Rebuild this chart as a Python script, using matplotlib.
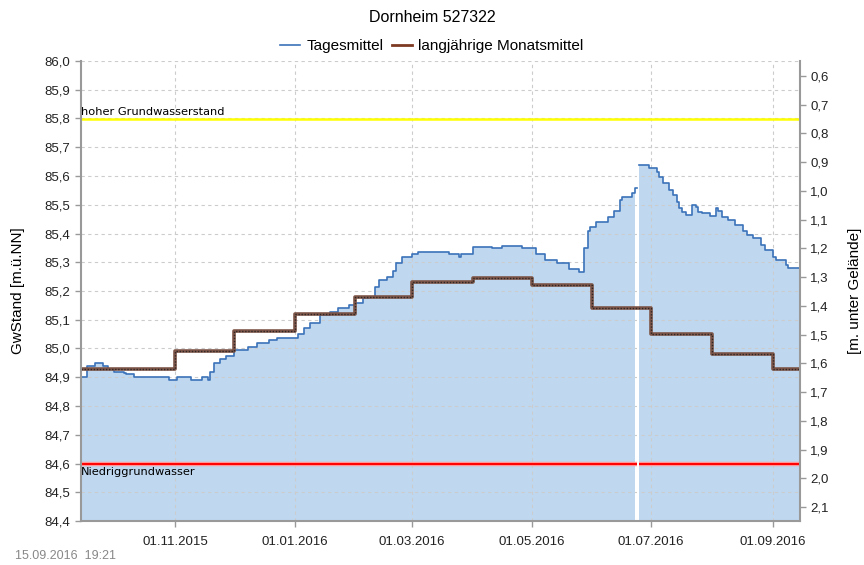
import numpy as np
import pandas as pd
import matplotlib
matplotlib.use("Agg")
import matplotlib.pyplot as plt
import matplotlib.dates as mdates
from matplotlib.ticker import FuncFormatter, MultipleLocator

plt.rcParams["font.family"] = ["Liberation Sans", "DejaVu Sans"]

# Tagesmittel (daily mean); NaN = missing day
day_dates = [
    "2015-09-14", "2015-09-17", "2015-09-21", "2015-09-25", "2015-09-28",
    "2015-10-01", "2015-10-06", "2015-10-07", "2015-10-11", "2015-10-29",
    "2015-11-02", "2015-11-09", "2015-11-15", "2015-11-18", "2015-11-19",
    "2015-11-21", "2015-11-24", "2015-11-27", "2015-12-01", "2015-12-08",
    "2015-12-13", "2015-12-19", "2015-12-23", "2016-01-03", "2016-01-06",
    "2016-01-09", "2016-01-14", "2016-01-19", "2016-01-23", "2016-01-29",
    "2016-02-01", "2016-02-05", "2016-02-08", "2016-02-11", "2016-02-13",
    "2016-02-17", "2016-02-20", "2016-02-22", "2016-02-25", "2016-03-01",
    "2016-03-04", "2016-03-20", "2016-03-25", "2016-03-26", "2016-04-01",
    "2016-04-11", "2016-04-16", "2016-04-26", "2016-05-03", "2016-05-08",
    "2016-05-14", "2016-05-20", "2016-05-25", "2016-05-28", "2016-05-30",
    "2016-05-31", "2016-06-03", "2016-06-09", "2016-06-12", "2016-06-15",
    "2016-06-16", "2016-06-21", "2016-06-23", "2016-06-24", "2016-06-25",
    "2016-06-30", "2016-07-04", "2016-07-05", "2016-07-07", "2016-07-10",
    "2016-07-12", "2016-07-14", "2016-07-15", "2016-07-17", "2016-07-19",
    "2016-07-22", "2016-07-24", "2016-07-25", "2016-07-27", "2016-07-31",
    "2016-08-03", "2016-08-04", "2016-08-06", "2016-08-09", "2016-08-13",
    "2016-08-17", "2016-08-19", "2016-08-22", "2016-08-26", "2016-08-28",
    "2016-09-01", "2016-09-03", "2016-09-08", "2016-09-09", "2016-09-15",
]
day_values = [
    84.90, 84.94, 84.95, 84.94, 84.93,
    84.92, 84.915, 84.91, 84.90, 84.89,
    84.90, 84.89, 84.90, 84.89, 84.92,
    84.95, 84.965, 84.975, 84.995, 85.005,
    85.02, 85.03, 85.038, 85.05, 85.07,
    85.09, 85.115, 85.128, 85.14, 85.15,
    85.16, 85.175, 85.18, 85.215, 85.238,
    85.25, 85.27, 85.296, 85.32, 85.33,
    85.337, 85.327, 85.317, 85.327, 85.354,
    85.349, 85.358, 85.349, 85.33, 85.308,
    85.296, 85.275, 85.267, 85.349, 85.41,
    85.423, 85.44, 85.458, 85.48, 85.516,
    85.528, 85.54, 85.557, np.nan, 85.638,
    85.627, 85.615, 85.598, 85.575, 85.551,
    85.534, 85.51, 85.49, 85.476, 85.464,
    85.50, 85.493, 85.476, 85.47, 85.46,
    85.488, 85.48, 85.458, 85.447, 85.43,
    85.41, 85.395, 85.384, 85.36, 85.343,
    85.32, 85.308, 85.29, 85.28, 85.265,
]

# langjährige Monatsmittel (long-term monthly mean)
month_starts = [
    "2015-09-14", "2015-10-01", "2015-11-01", "2015-12-01", "2016-01-01",
    "2016-02-01", "2016-03-01", "2016-04-01", "2016-05-01", "2016-06-01",
    "2016-07-01", "2016-08-01", "2016-09-01", "2016-09-15",
]
month_means = [
    84.93, 84.93, 84.99, 85.06, 85.12,
    85.18, 85.23, 85.245, 85.22, 85.14,
    85.05, 84.98, 84.93, 84.93,
]

high_level = 85.8
low_level = 84.6
ground = 86.548
gap_start, gap_end = "2016-06-24", "2016-06-25"
tick_dates = ["2015-11-01", "2016-01-01", "2016-03-01", "2016-05-01",
              "2016-07-01", "2016-09-01"]

x_day = pd.to_datetime(day_dates)
y_day = np.array(day_values)
x_mon = pd.to_datetime(month_starts)

fig = plt.figure(figsize=(8.64, 5.65), dpi=100)
ax = fig.add_axes([81 / 864, 1 - 521 / 565, 719 / 864, 460 / 565])

ymin, ymax = 84.4, 86.0
ax.fill_between(x_day, ymin, y_day, step="post", color="#bfd8f0",
                linewidth=0, zorder=1)
ax.step(x_day, y_day, where="post", color="#3b72b9", linewidth=1.2, zorder=4)

# thresholds
ax.axhline(high_level, color="#ffff00", linewidth=1.8, zorder=3)
ax.axhline(low_level, color="#ff9999", linewidth=3.2, zorder=3)
ax.axhline(low_level, color="#ff0000", linewidth=1.4, zorder=3)

# missing day shows as a white strip below the data
ax.fill_between(pd.to_datetime([gap_start, gap_end]), ymin, np.nanmax(y_day),
                color="white", linewidth=0, zorder=3.5)

ax.step(x_mon, month_means, where="post", color="#7d5548", linewidth=2.6,
        zorder=5)
ax.step(x_mon, month_means, where="post", color="#2e2624", linewidth=1.0,
        linestyle=(0, (1, 1.2)), zorder=6)

ax.set_ylim(ymin, ymax)
ax.set_xlim(pd.Timestamp("2015-09-14"), pd.Timestamp("2016-09-15"))
ax.yaxis.set_major_locator(MultipleLocator(0.1))
ax.yaxis.set_major_formatter(FuncFormatter(lambda v, p: f"{v:.1f}".replace(".", ",")))
ax.set_xticks(pd.to_datetime(tick_dates))
ax.xaxis.set_major_formatter(mdates.DateFormatter("%d.%m.%Y"))

ax.grid(True, color="#cccccc", linestyle=(0, (3, 3)), linewidth=0.8)
for gl in ax.get_xgridlines() + ax.get_ygridlines():
    gl.set_zorder(2)

for side in ["top", "right"]:
    ax.spines[side].set_visible(False)
for side in ["left", "bottom"]:
    ax.spines[side].set_color("#999999")
    ax.spines[side].set_linewidth(1.5)
    ax.spines[side].set_zorder(7)
ax.tick_params(axis="both", colors="#999999", labelcolor="#222222",
               labelsize=9.5, length=4, width=1)
ax.tick_params(axis="x", pad=7)

ax.text(0.0, high_level + 0.006, "hoher Grundwasserstand", transform=ax.get_yaxis_transform(),
        fontsize=8.2, family="DejaVu Sans", ha="left", va="bottom", zorder=8)
ax.text(0.0, low_level - 0.013, "Niedriggrundwasser", transform=ax.get_yaxis_transform(),
        fontsize=8.2, family="DejaVu Sans", ha="left", va="top", zorder=8)

ax.set_ylabel("GwStand [m.ü.NN]", fontsize=11, labelpad=14)

# right axis: depth below ground
ax2 = ax.twinx()
ax2.set_ylim(ground - ymin, ground - ymax)
ax2.yaxis.set_major_locator(MultipleLocator(0.1))
ax2.yaxis.set_major_formatter(FuncFormatter(lambda v, p: f"{v:.1f}".replace(".", ",")))
for side in ["top", "left", "bottom"]:
    ax2.spines[side].set_visible(False)
ax2.spines["right"].set_color("#999999")
ax2.spines["right"].set_linewidth(1.5)
ax2.tick_params(axis="y", colors="#999999", labelcolor="#222222",
                labelsize=9.5, length=4, width=1)
ax2.set_ylabel("[m. unter Gelände]", fontsize=11, labelpad=14)

fig.text(0.5, 1 - 18 / 565, "Dornheim 527322", ha="center", va="center", fontsize=11.5)

h1, = ax.plot([], [], color="#3b72b9", linewidth=1.2)
h2, = ax.plot([], [], color="#7d3a22", linewidth=2)
fig.legend([h1, h2], ["Tagesmittel", "langjährige Monatsmittel"],
           loc="center", bbox_to_anchor=(0.5, 1 - 46 / 565), ncol=2,
           frameon=False, fontsize=11, handlelength=1.3, handletextpad=0.4,
           columnspacing=0.6)

fig.text(15 / 864, 1 - 556 / 565, "15.09.2016  19:21", ha="left", va="center",
         fontsize=9, color="#888888")

fig.savefig("out.png", dpi=100)
